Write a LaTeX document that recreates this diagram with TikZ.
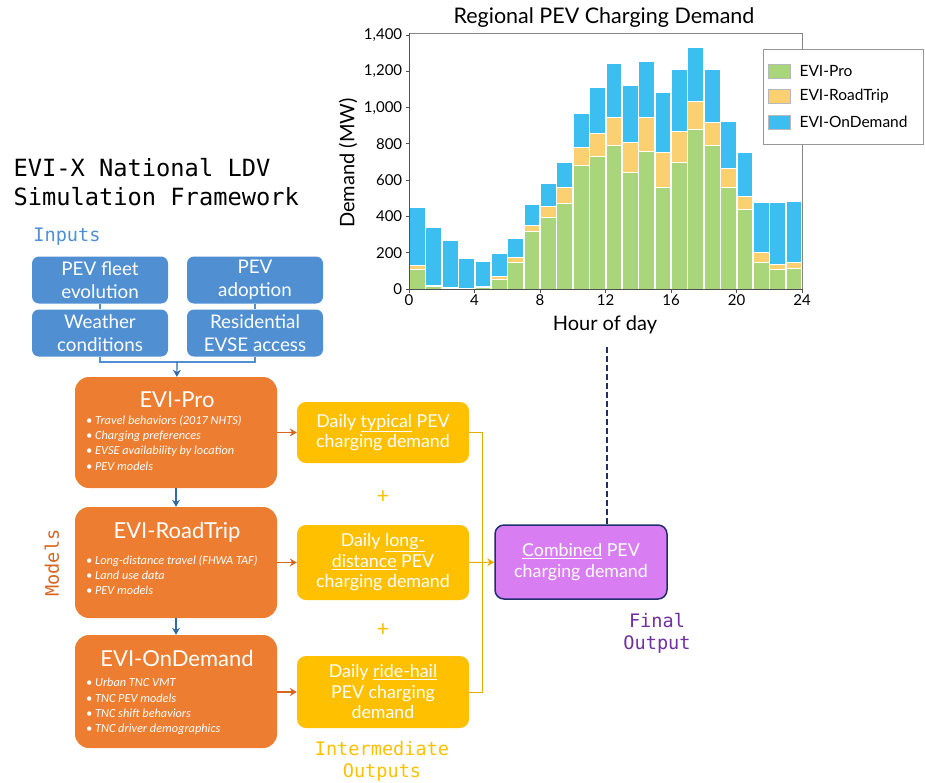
\documentclass[tikz,border=0pt]{standalone}
\usepackage{fontspec}
\setmainfont{Lato}
\setmonofont{DejaVu Sans Mono}
\newfontfamily\notefont{Carlito}
\usetikzlibrary{arrows.meta}
\definecolor{evblue}{HTML}{4F8FD2}
\definecolor{evsky}{HTML}{4D90D8}
\definecolor{evarrow}{HTML}{2E6BA8}
\definecolor{evorange}{HTML}{ED7D31}
\definecolor{evorangedk}{HTML}{D7661E}
\definecolor{evyellow}{HTML}{FFC000}
\definecolor{evviolet}{HTML}{D97DF2}
\definecolor{evnavy}{HTML}{1F2F6E}
\definecolor{evpurple}{HTML}{7030A0}
\definecolor{barpro}{HTML}{A9D57B}
\definecolor{barroad}{HTML}{FAD071}
\definecolor{bardemand}{HTML}{3CBEF0}
\definecolor{axisgrey}{HTML}{505050}

\begin{document}
\begin{tikzpicture}[x=1pt, y=-1pt,
      inbox/.style={rounded corners=7pt, fill=evblue, text=white, minimum width=136pt,
                    minimum height=47pt, align=center, inner sep=1pt,
                    font=\fontsize{18.8}{23}\selectfont},
      model/.style={rounded corners=14pt, fill=evorange, minimum width=202pt},
      mtitle/.style={text=white, font=\fontsize{22}{26}\selectfont},
      mnote/.style={text=white, anchor=north west, align=left, inner sep=0pt,
                    font=\notefont\itshape\fontsize{12.3}{15.4}\selectfont},
      inter/.style={rounded corners=9pt, fill=evyellow, text=white, minimum width=172pt,
                    align=center, inner sep=1pt, font=\fontsize{17.8}{20.5}\selectfont},
      final/.style={rounded corners=9pt, fill=evviolet, draw=evnavy, line width=1.5pt,
                    text=white, minimum width=172pt, minimum height=74pt,
                    align=center, inner sep=1pt, font=\fontsize{17.8}{21.5}\selectfont},
      tag/.style={font=\ttfamily\fontsize{18.6}{22}\selectfont, align=center},
      chart/.style={font=\fontsize{20}{23}\selectfont},
      tick/.style={font=\fontsize{15}{18}\selectfont},
      ar/.style={-{Stealth[length=7pt,width=8pt]}, line width=1.2pt},
    ]
    \clip (0,0) rectangle (925,782);

    % ---------------- title
    \node[font=\ttfamily\fontsize{23.7}{29}\selectfont, align=left, anchor=west]
      (ttl) at (10,182.5) {EVI-X National LDV\\Simulation Framework};

    % ---------------- inputs
    \node[tag, text=evsky] (inp) at (67,237) {Inputs};
    \node[inbox] (fleet)   at (100,280) {PEV fleet\\evolution};
    \node[inbox] (adopt)   at (255,280) {PEV\\adoption};
    \node[inbox] (weather) at (100,333) {Weather\\conditions};
    \node[inbox] (resid)   at (255,333) {Residential\\EVSE access};
    \coordinate (join) at (177,362);
    \draw[evblue, line width=1.2pt] (fleet) -- (weather);
    \draw[evblue, line width=1.2pt] (adopt) -- (resid);
    \draw[evblue, line width=1.2pt] (weather.south) |- (join) -| (resid.south);

    % ---------------- models
    \node[tag, text=evorangedk, rotate=90] (mdl) at (52,563) {Models};
    \node[model, minimum height=111pt] (pro)  at (176,432.5) {};
    \node[model, minimum height=111pt] (road) at (176,562.5) {};
    \node[model, minimum height=113pt] (dem)  at (176,691.5) {};
    \node[mtitle] (protl)  at (177,400) {EVI-Pro};
    \node[mtitle] (roadtl) at (177,532) {EVI-RoadTrip};
    \node[mtitle] (demtl)  at (177,658) {EVI-OnDemand};
    \node[mnote] (pronote) at (86,415)
      {• Travel behaviors (2017 NHTS)\\• Charging preferences\\• EVSE availability by location\\• PEV models};
    \node[mnote] (roadnote) at (86,555)
      {• Long-distance travel (FHWA TAF)\\• Land use data\\• PEV models};
    \node[mnote] (demnote) at (86,678)
      {• Urban TNC VMT\\• TNC PEV models\\• TNC shift behaviors\\• TNC driver demographics};
    \draw[ar, evarrow] (join) -- (pro);
    \draw[ar, evarrow] (pro) -- (road);
    \draw[ar, evarrow] (road) -- (dem);

    % ---------------- intermediate outputs
    \node[inter, minimum height=61pt] (typ)   at (383,432.5) {Daily \underline{typical} PEV\\charging demand};
    \node[inter, minimum height=75pt] (longd) at (383,562.5) {Daily \underline{long-}\\\underline{distance} PEV\\charging demand};
    \node[inter, minimum height=72pt] (ride)  at (383,692) {Daily \underline{ride-hail}\\PEV charging\\demand};
    \node[text=evyellow, font=\fontsize{22}{22}\selectfont] (plusa) at (383,497) {+};
    \node[text=evyellow, font=\fontsize{22}{22}\selectfont] (plusb) at (383,630) {+};
    \node[tag, text=evyellow] (midout) at (382,761) {Intermediate\\Outputs};
    \draw[ar, evorangedk] (pro) -- (typ);
    \draw[ar, evorangedk] (road) -- (longd);
    \draw[ar, evorangedk] (dem.east |- ride) -- (ride);

    % ---------------- final output
    \node[final] (comb) at (581,562) {\underline{Combined} PEV\\charging demand};
    \node[tag, text=evpurple] (finout) at (657,633) {Final\\Output};
    \coordinate (bus) at (482,562);
    \coordinate (dtop) at (607,347);
    \draw[evyellow!90!black, line width=1pt] (typ.east) -- (typ.east -| bus) -- (ride.east -| bus) -- (ride.east);
    \draw[ar, evyellow!90!black, line width=1pt] (longd) -- (comb);
    \draw[evnavy, line width=2.4pt, dash pattern=on 6pt off 3pt] (comb.north -| dtop) -- (dtop);

    % ---------------- demand chart
    \node[chart, font=\fontsize{21.5}{24}\selectfont] (charttl) at (604,18) {Regional PEV Charging Demand};
    \node[chart, rotate=90] (ylab) at (348,163) {Demand (MW)};
    \node[chart] (hod) at (605,325) {Hour of day};
    \begin{scope}[shift={(409,289)}, x=16.375pt, y=0.1814pt]
      \foreach \g/\r/\o [count=\h from 0] in {110/129/452, 15/18/340, 5/7/269, 4/5/171,
          11/15/151, 55/68/197, 147/177/281, 320/350/469, 397/456/585, 471/559/697,
          684/780/968, 732/857/1111, 791/949/1242, 644/811/1124, 760/949/1255,
          559/754/1085, 701/872/1210, 881/1036/1332, 793/920/1209, 559/668/923,
          438/513/756, 147/202/476, 107/134/476, 116/149/484} {
        \filldraw[fill=bardemand, draw=white, line width=0.6pt] (\h+0.02,\r) rectangle (\h+0.98,\o);
        \filldraw[fill=barroad, draw=white, line width=0.6pt] (\h+0.02,\g) rectangle (\h+0.98,\r);
        \filldraw[fill=barpro, draw=white, line width=0.6pt] (\h+0.02,0) rectangle (\h+0.98,\g);
      }
      \draw[axisgrey!70, line width=0.8pt] (0,0) rectangle (24,1411);
      \draw[axisgrey, line width=1pt] (0,1411) -- (0,0) -- (24,0);
      \foreach \x in {0,4,...,24} {
        \draw[axisgrey, line width=1pt] (\x,0) -- ++(0,-4pt);
        \node[tick, anchor=north] (xt\x) at (\x,-10) {\x};
      }
      \foreach \v/\t in {0/0, 200/200, 400/400, 600/600, 800/800, 1000/{1,000}, 1200/{1,200}, 1400/{1,400}} {
        \draw[axisgrey, line width=1pt] (0,\v) -- ++(-3pt,0);
        \node[tick, anchor=east] (yt\v) at (-0.2,\v) {\t};
      }
    \end{scope}

    % ---------------- legend
    \node[draw=axisgrey!60, fill=white, line width=0.8pt, minimum width=160pt,
          minimum height=95pt, inner sep=0pt] (lgd) at (843,96.5) {};
    \foreach \c/\t [count=\k from 0] in {barpro/EVI-Pro, barroad/EVI-RoadTrip, bardemand/EVI-OnDemand} {
      \node[fill=\c, draw=axisgrey!40, minimum width=22pt, minimum height=14pt,
            inner sep=0pt] (sw\k) at (779,71+25.5*\k) {};
      \node[tick, anchor=west, font=\fontsize{15.5}{18}\selectfont] (lt\k) at (796,71+25.5*\k) {\t};
    }
  \end{tikzpicture}
\end{document}
